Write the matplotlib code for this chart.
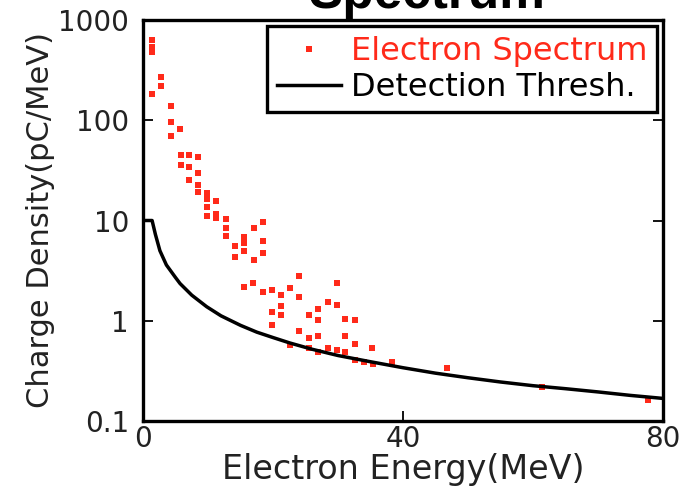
import matplotlib
matplotlib.use("Agg")
import matplotlib.pyplot as plt
from matplotlib.ticker import FixedLocator, NullLocator

# Electron spectrum data points (energy MeV, charge density pC/MeV)
spec_energy = [1.43, 1.43, 1.43, 2.7, 2.7, 1.43, 4.36, 4.36, 5.64, 4.36,
               5.85, 7.1, 8.46, 5.85, 7.1, 8.46, 7.1, 8.46, 8.46, 9.9,
               9.9, 11.2, 9.9, 9.9, 11.2, 11.2, 12.7, 12.7, 18.4, 17.0,
               12.7, 15.6, 15.6, 18.4, 14.15, 15.6, 18.4, 14.15, 17.0,
               24.05, 16.9, 15.6, 29.8, 18.4, 19.9, 22.6, 21.3, 24.05,
               28.4, 29.8, 21.3, 26.9, 19.9, 21.3, 25.6, 26.9, 31.1, 32.6,
               19.9, 24.05, 26.9, 31.1, 25.6, 32.6, 22.6, 25.6, 28.4, 26.9,
               29.8, 31.1, 35.3, 32.6, 34.05, 35.4, 38.3, 46.7, 61.4, 77.7]
spec_charge = [631, 541, 482, 270, 219, 182, 138, 95, 81, 70,
               44.7, 44.7, 43, 36, 34, 30, 25.5, 22.4, 19.2, 18.8,
               16.5, 15.8, 13.6, 11.2, 11.7, 10.6, 10.4, 8.5, 9.6, 8.4,
               7.0, 6.9, 5.9, 6.2, 5.6, 5.0, 4.7, 4.3, 4.07,
               2.8, 2.4, 2.15, 2.4, 1.95, 2.04, 2.1, 1.8, 1.74,
               1.55, 1.43, 1.41, 1.3, 1.23, 1.15, 1.13, 1.02, 1.04, 1.02,
               0.91, 0.79, 0.71, 0.71, 0.67, 0.59, 0.57, 0.53, 0.53, 0.49,
               0.51, 0.49, 0.53, 0.41, 0.39, 0.37, 0.39, 0.34, 0.22, 0.163]

# Detection threshold curve
thr_energy = [0, 1.4, 1.9, 2.6, 3.6, 5, 5.7, 7.5, 9.8, 12, 15, 17.5, 20,
              22.6, 26, 30, 35, 40, 45, 50, 55, 60, 65, 70, 75, 80]
thr_charge = [10, 10, 7.3, 5.0, 3.6, 2.7, 2.35, 1.8, 1.38, 1.12, 0.9, 0.77,
              0.68, 0.6, 0.52, 0.45, 0.39, 0.34, 0.30, 0.27, 0.245, 0.225,
              0.21, 0.195, 0.18, 0.168]

x_ticks = [0, 40, 80]
y_ticks = [0.1, 1, 10, 100, 1000]
y_tick_labels = ["0.1", "1", "10", "100", "1000"]

fig = plt.figure(figsize=(6.95, 4.86), dpi=100)
ax = fig.add_axes([143/695, 1 - 421/486, 520/695, 401/486])

red = "#ff2a1a"
ax.plot(spec_energy, spec_charge, linestyle="none", marker="s",
        markersize=4.2, color=red, markeredgewidth=0,
        label="Electron Spectrum")
ax.plot(thr_energy, thr_charge, color="black", linewidth=2.5,
        label="Detection Thresh.")

ax.set_yscale("log")
ax.set_xlim(0, 80)
ax.set_ylim(0.1, 1000)
ax.xaxis.set_major_locator(FixedLocator(x_ticks))
ax.xaxis.set_minor_locator(NullLocator())
ax.yaxis.set_major_locator(FixedLocator(y_ticks))
ax.yaxis.set_minor_locator(NullLocator())
ax.set_yticklabels(y_tick_labels)
ax.set_xticklabels([str(v) for v in x_ticks])

for s in ax.spines.values():
    s.set_linewidth(2.4)

ax.tick_params(axis="both", which="major", direction="in", length=7,
               width=1.3, labelsize=20, colors="black", labelcolor="#222222")
ax.tick_params(axis="y", right=True, pad=10)
ax.tick_params(axis="x", pad=3)

ax.set_xlabel("Electron Energy(MeV)", fontsize=24, color="#222222", labelpad=0)
ax.set_ylabel("Charge Density(pC/MeV)", fontsize=22, color="#222222", labelpad=2)

leg = ax.legend(loc="upper right", fontsize=23, frameon=True, fancybox=False,
                framealpha=1, edgecolor="black", borderpad=0.3,
                handlelength=2.0, handletextpad=0.3, labelspacing=0.15,
                borderaxespad=0.2, markerscale=1.1)
leg.get_frame().set_linewidth(2.4)
for t in leg.get_texts():
    t.set_color("black")
leg.get_texts()[0].set_color(red)

fig.text(427/695, 1 - 8/486, "Spectrum", ha="center", va="baseline",
         fontsize=37, fontweight="bold", family="Liberation Sans")

fig.savefig("out.png", dpi=100)
